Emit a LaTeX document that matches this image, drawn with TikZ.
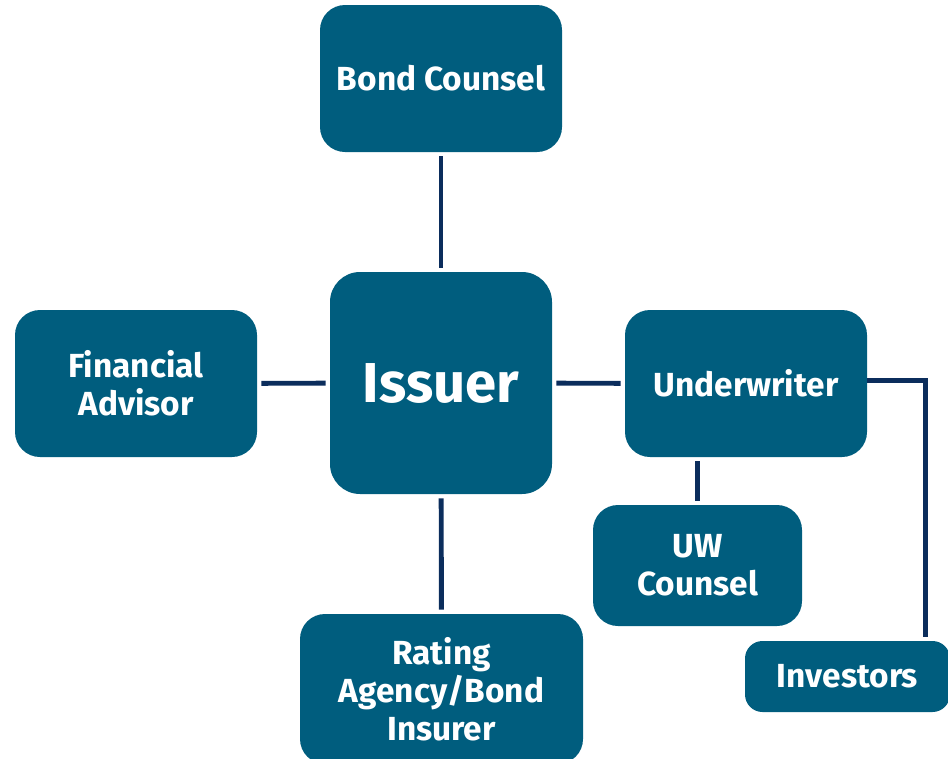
\documentclass[tikz,border=0pt]{standalone}
\usepackage{fontspec}
\setmainfont{Fira Sans}
\usepackage{tikz}
\usetikzlibrary{positioning}

\definecolor{boxblue}{HTML}{005D7E}
\definecolor{linknavy}{HTML}{0B2D5C}

\begin{document}
\begin{tikzpicture}[
  party/.style={rectangle, rounded corners=0.5cm, fill=boxblue, text=white, align=center,
    font=\fontsize{19}{21.5}\selectfont\bfseries, inner sep=0pt},
  link/.style={draw=linknavy, line width=2.8pt, shorten <=2.3pt, shorten >=2.3pt}]
\useasboundingbox (0,0) rectangle (18.96,-15.18);
\node[party, minimum width=4.84cm, minimum height=2.94cm] (bond) at (8.82,-1.57) {Bond Counsel};
\node[party, minimum width=4.44cm, minimum height=4.44cm, rounded corners=0.6cm,
  font=\fontsize{32}{36}\selectfont\bfseries] (issuer) at (8.82,-7.66) {Issuer};
\node[party, minimum width=4.84cm, minimum height=2.94cm] (fa) at (2.72,-7.67) {Financial\\Advisor};
\node[party, minimum width=4.84cm, minimum height=2.94cm] (uw) at (14.92,-7.67) {Underwriter};
\node[party, minimum width=4.18cm, minimum height=2.42cm] (uwc) at (13.95,-11.31) {UW\\Counsel};
\node[party, minimum width=5.66cm, minimum height=3.0cm] (rating) at (8.83,-13.78) {Rating\\Agency/Bond\\Insurer};
\node[party, minimum width=4.1cm, minimum height=1.42cm, rounded corners=0.35cm] (inv) at (16.95,-13.53) {Investors};
% connectors
\draw[link] (bond) -- (issuer);
\draw[link] (fa) -- (issuer);
\draw[link] (issuer) -- (uw);
\draw[link] (issuer) -- (rating);
\draw[link] (uwc.north) -- (uwc.north |- uw.south);
\draw[link, shorten <=0pt] ([yshift=0.06cm]uw.east) -| ([xshift=1.56cm]inv.north);
\end{tikzpicture}
\end{document}
